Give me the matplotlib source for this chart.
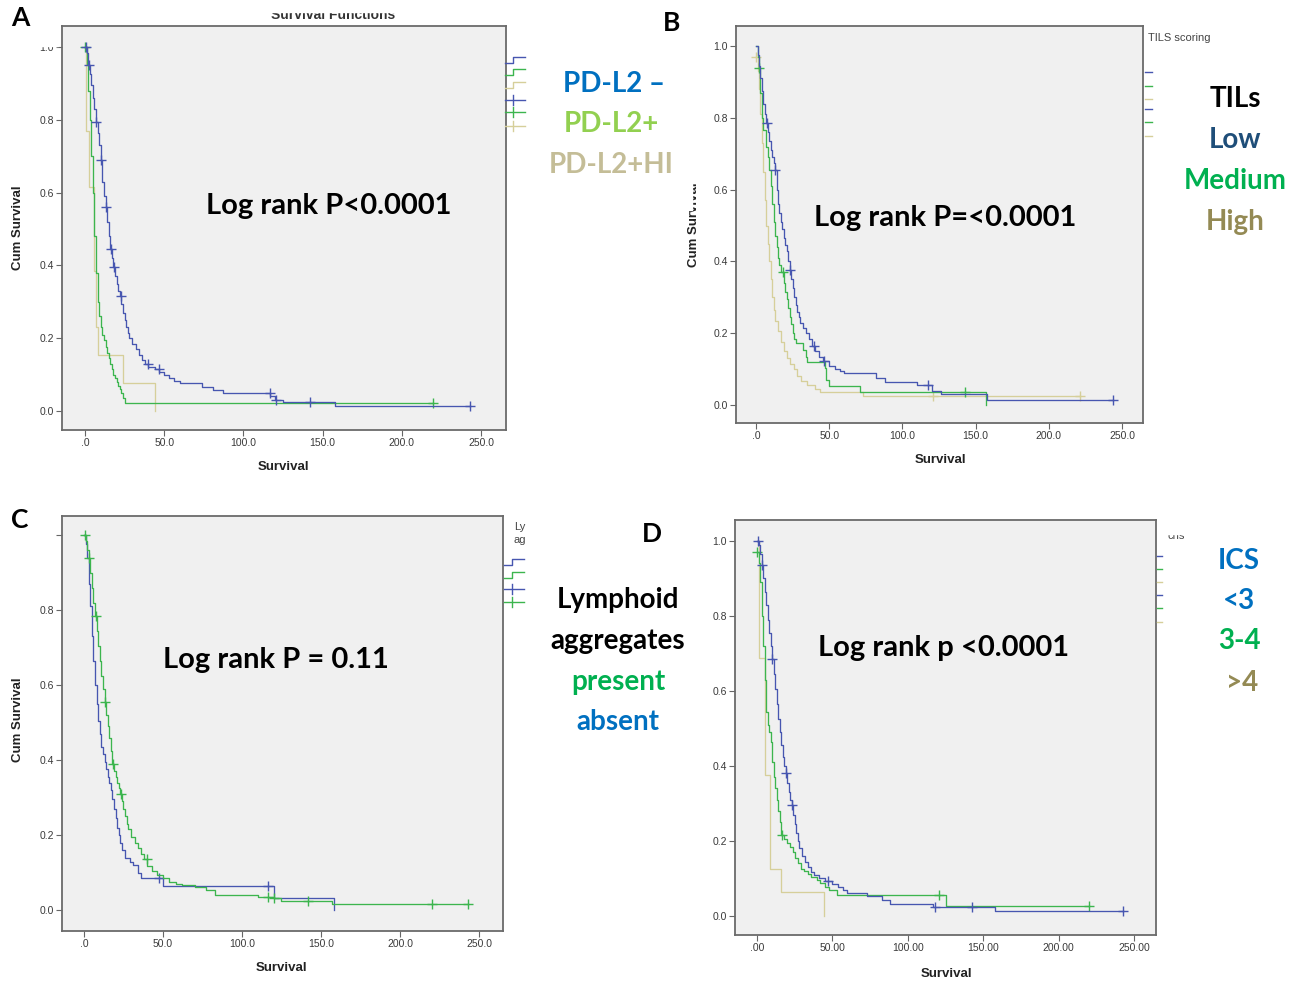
import numpy as np
import matplotlib.pyplot as plt
from matplotlib.patches import Rectangle

W, H = 1312, 985

BLUE = '#4756b0'
GREEN = '#3cb54e'
TAN = '#d6cf9a'

# ---- panel A : PD-L2 ----
a_blue_t = [0, 1, 2, 3, 4, 5, 6, 7, 8, 9, 10, 11, 12, 13, 14, 15, 16, 17, 18, 19, 20, 21, 22, 23, 24, 25, 26, 27, 28,
            30, 32, 34, 36, 38, 40, 44, 47, 50, 53, 56, 60, 74, 81, 87, 117, 120, 125, 158]
a_blue_s = [1.0, 0.985, 0.95, 0.925, 0.895, 0.86, 0.83, 0.795, 0.765, 0.73, 0.69, 0.63, 0.59, 0.56, 0.52, 0.48, 0.445,
            0.42, 0.395, 0.37, 0.35, 0.33, 0.315, 0.295, 0.27, 0.25, 0.23, 0.215, 0.20, 0.185, 0.17, 0.155, 0.14, 0.13,
            0.122, 0.115, 0.108, 0.10, 0.092, 0.084, 0.076, 0.065, 0.058, 0.050, 0.041, 0.030, 0.026, 0.014]
a_blue_cens = [0.5, 2.3, 7.2, 10.1, 13.2, 16.6, 18.1, 22.9, 39.8, 46.5, 116.8, 120.5, 142, 243]
a_green_t = [0, 1, 2, 3, 4, 5, 6, 7, 8, 9, 10, 11, 12, 13, 14, 15, 16, 17, 18, 19, 20, 21, 22, 23, 24, 25.5]
a_green_s = [1.0, 0.95, 0.88, 0.80, 0.70, 0.60, 0.48, 0.38, 0.30, 0.26, 0.23, 0.21, 0.195, 0.175, 0.16, 0.145, 0.13,
             0.115, 0.10, 0.09, 0.08, 0.07, 0.06, 0.05, 0.035, 0.021]
a_green_cens = [0.3, 220]
a_tan_t = [0, 0.8, 2.3, 5.5, 7.2, 8.2, 24, 44.4]
a_tan_s = [1.0, 0.769, 0.615, 0.385, 0.231, 0.154, 0.077, 0.0]

# ---- panel B : TILs ----
b_blue_t = [0, 1, 2, 3, 4, 5, 6, 7, 8, 9, 10, 11, 12, 13, 14, 15, 16, 17, 18, 19, 20, 21, 22, 23, 24, 25, 26, 27, 28,
            29, 30, 32, 34, 36, 38, 40, 43, 46, 50, 54, 57, 60, 82, 88, 110, 120, 126, 158]
b_blue_s = [1.0, 0.975, 0.945, 0.91, 0.875, 0.84, 0.81, 0.785, 0.76, 0.735, 0.71, 0.69, 0.675, 0.655, 0.60, 0.56,
            0.535, 0.51, 0.49, 0.465, 0.445, 0.43, 0.40, 0.375, 0.35, 0.325, 0.30, 0.28, 0.26, 0.245, 0.228, 0.215,
            0.20, 0.185, 0.165, 0.15, 0.135, 0.123, 0.11, 0.10, 0.095, 0.09, 0.074, 0.064, 0.055, 0.040, 0.032, 0.014]
b_blue_cens = [7.3, 13.2, 23.2, 39.8, 46.5, 117.5, 244]
b_green_t = [0, 1, 2, 3, 4, 5, 7, 8, 9, 10, 11, 12, 13, 14, 15, 16, 17, 19, 20, 21, 22, 23, 24, 25, 26, 27, 32, 34,
             35, 47, 48, 50, 71, 157]
b_green_s = [1.0, 0.97, 0.94, 0.87, 0.80, 0.765, 0.72, 0.69, 0.655, 0.61, 0.56, 0.51, 0.47, 0.44, 0.41, 0.39, 0.37,
             0.34, 0.315, 0.295, 0.27, 0.245, 0.225, 0.20, 0.185, 0.172, 0.153, 0.135, 0.121, 0.102, 0.07, 0.053,
             0.037, 0.0]
b_green_cens = [2.3, 18.2, 142.8]
b_tan_t = [0, 1, 2, 3, 4, 5, 6, 7, 8, 9, 10, 11, 12, 13, 15, 17, 19, 21, 23, 26, 28, 31, 35, 40, 44, 73]
b_tan_s = [0.97, 0.93, 0.88, 0.81, 0.73, 0.65, 0.57, 0.50, 0.45, 0.40, 0.35, 0.30, 0.265, 0.235, 0.205, 0.175, 0.15,
           0.13, 0.115, 0.10, 0.08, 0.068, 0.056, 0.046, 0.037, 0.025]
b_tan_cens = [0, 120.7, 221]

# ---- panel C : lymphoid aggregates ----
c_green_t = [0, 1, 2, 3, 4, 5, 6, 7, 8, 9, 10, 11, 12, 13, 14, 15, 16, 17, 18, 19, 20, 21, 22, 23, 24, 25, 26, 27, 28,
             30, 32, 34, 36, 38, 40, 43, 46, 50, 54, 58, 62, 70, 77, 83, 110, 120, 125, 157]
c_green_s = [1.0, 0.985, 0.96, 0.94, 0.90, 0.86, 0.82, 0.785, 0.745, 0.705, 0.665, 0.625, 0.59, 0.555, 0.52, 0.49,
             0.46, 0.425, 0.39, 0.37, 0.355, 0.34, 0.325, 0.31, 0.29, 0.27, 0.25, 0.23, 0.215, 0.195, 0.18, 0.165,
             0.15, 0.135, 0.118, 0.105, 0.093, 0.085, 0.076, 0.07, 0.066, 0.062, 0.053, 0.040, 0.036, 0.031, 0.025,
             0.015]
c_green_cens = [0.4, 3, 7.8, 13.1, 18.4, 23.6, 39.9, 116.5, 120.5, 142, 220, 243]
c_blue_t = [0, 1, 2, 3, 4, 5, 6, 7, 8, 9, 10, 11, 12, 13, 14, 15, 16, 17, 18, 19, 20, 21, 22, 23, 24, 26, 29, 31, 34,
            36, 50, 120, 158]
c_blue_s = [1.0, 0.975, 0.94, 0.87, 0.81, 0.73, 0.665, 0.60, 0.55, 0.505, 0.47, 0.435, 0.415, 0.395, 0.375, 0.355,
            0.34, 0.32, 0.295, 0.27, 0.245, 0.22, 0.20, 0.178, 0.16, 0.138, 0.128, 0.12, 0.10, 0.085, 0.064, 0.032,
            0.0]
c_blue_cens = [47.2, 116.5]

# ---- panel D : ICS ----
d_blue_t = [0, 1, 2, 3, 4, 5, 6, 7, 8, 9, 10, 11, 12, 13, 14, 15, 16, 17, 18, 19, 20, 21, 22, 23, 24, 25, 26, 27, 28,
            30, 32, 34, 36, 38, 41, 45, 50, 54, 57, 60, 73, 83, 88, 117, 158]
d_blue_s = [1.0, 0.99, 0.965, 0.935, 0.90, 0.865, 0.83, 0.79, 0.755, 0.72, 0.685, 0.645, 0.605, 0.565, 0.525, 0.49,
            0.455, 0.425, 0.40, 0.38, 0.355, 0.33, 0.31, 0.295, 0.27, 0.245, 0.22, 0.20, 0.18, 0.16, 0.145, 0.13,
            0.118, 0.108, 0.10, 0.093, 0.085, 0.078, 0.068, 0.06, 0.052, 0.043, 0.031, 0.025, 0.012]
d_blue_cens = [0.9, 3.1, 10.2, 19, 23.4, 47.3, 118, 142.4, 243]
d_green_t = [0, 1, 2, 3, 4, 5, 6, 7, 8, 9, 10, 11, 12, 13, 14, 15, 16, 18, 20, 22, 24, 25, 27, 29, 31, 34, 36, 40, 42,
             45, 48, 53, 125]
d_green_s = [0.971, 0.94, 0.89, 0.80, 0.72, 0.63, 0.545, 0.51, 0.49, 0.465, 0.41, 0.37, 0.34, 0.31, 0.28, 0.25, 0.215,
             0.205, 0.195, 0.185, 0.17, 0.155, 0.14, 0.125, 0.12, 0.112, 0.105, 0.095, 0.087, 0.078, 0.068, 0.056,
             0.027]
d_green_cens = [0, 16.4, 120.4, 220]
d_tan_t = [0, 1.5, 5.3, 8.5, 15.7, 44.7]
d_tan_s = [1.0, 0.6875, 0.375, 0.125, 0.0625, 0.0]

x_ticks = [0, 50, 100, 150, 200, 250]
x_labels_1 = ['.0', '50.0', '100.0', '150.0', '200.0', '250.0']
x_labels_2 = ['.00', '50.00', '100.00', '150.00', '200.00', '250.00']
y_ticks = [0.0, 0.2, 0.4, 0.6, 0.8, 1.0]
y_labels = ['0.0', '0.2', '0.4', '0.6', '0.8', '1.0']
y_labels_c = ['0.0', '0.2', '0.4', '0.6', '0.8', '']

fig = plt.figure(figsize=(W / 100, H / 100), dpi=100)
fig.patch.set_facecolor('white')


def km_axes(box, xlim, ylim, xlabels, ylabels):
    l, t, r, b = box
    ax = fig.add_axes([l / W, 1 - b / H, (r - l) / W, (b - t) / H])
    ax.set_facecolor('#f0f0f0')
    ax.set_xlim(*xlim)
    ax.set_ylim(*ylim)
    ax.set_xticks(x_ticks)
    ax.set_xticklabels(xlabels)
    ax.set_yticks(y_ticks)
    ax.set_yticklabels(ylabels)
    ax.tick_params(direction='out', length=4, width=0.8, color='#666666', labelsize=7.5,
                   labelcolor='#3a3a3a', pad=2)
    for lab in ax.get_xticklabels() + ax.get_yticklabels():
        lab.set_family('Liberation Sans')
    for sp in ax.spines.values():
        sp.set_color('#6a6a6a')
        sp.set_linewidth(1.3)
    return ax


def km_curve(ax, t, s, color, end=None, cens=()):
    t = np.asarray(t, float)
    s = np.asarray(s, float)
    if end is None:
        end = t[-1]
    ax.step(np.append(t, end), np.append(s, s[-1]), where='post', color=color, lw=0.95)
    if len(cens):
        idx = np.searchsorted(t, cens, side='right') - 1
        ax.plot(cens, s[idx], ls='none', marker='+', ms=7, mew=1.0, color=color)


ax_a = km_axes((62, 26, 506, 430), (-14.5, 265.8), (-0.052, 1.058), x_labels_1, y_labels)
km_curve(ax_a, a_tan_t, a_tan_s, TAN)
km_curve(ax_a, a_green_t, a_green_s, GREEN, 220, a_green_cens)
km_curve(ax_a, a_blue_t, a_blue_s, BLUE, 243, a_blue_cens)

ax_b = km_axes((736, 26, 1143, 423), (-13.7, 264.3), (-0.050, 1.056), x_labels_1, y_labels)
km_curve(ax_b, b_tan_t, b_tan_s, TAN, 221, b_tan_cens)
km_curve(ax_b, b_green_t, b_green_s, GREEN, None, b_green_cens)
km_curve(ax_b, b_blue_t, b_blue_s, BLUE, 244, b_blue_cens)

ax_c = km_axes((62, 516, 503, 931), (-13.9, 265.2), (-0.056, 1.051), x_labels_1, y_labels_c)
km_curve(ax_c, c_blue_t, c_blue_s, BLUE, None, c_blue_cens)
km_curve(ax_c, c_green_t, c_green_s, GREEN, 243, c_green_cens)

ax_d = km_axes((735, 520, 1156, 935), (-14.6, 264.6), (-0.051, 1.056), x_labels_2, y_labels)
km_curve(ax_d, d_tan_t, d_tan_s, TAN)
km_curve(ax_d, d_green_t, d_green_s, GREEN, 220, d_green_cens)
km_curve(ax_d, d_blue_t, d_blue_s, BLUE, 243, d_blue_cens)

# overlay in pixel coordinates for labels, annotations and legend keys
ov = fig.add_axes([0, 0, 1, 1], zorder=10)
ov.set_xlim(0, W)
ov.set_ylim(H, 0)
ov.axis('off')

big = dict(family=['Lato', 'DejaVu Sans'], weight='bold', ha='center', va='center')
axis_lab = dict(family='Liberation Sans', weight='bold', fontsize=9.5, color='#222222', ha='center', va='center')

# panel letters
for letter, x, y in [('A', 20, 18), ('B', 672, 23), ('C', 20, 520), ('D', 652, 534)]:
    ov.text(x, y, letter, fontsize=19, color='black', **big)

# axis titles
ov.text(18, 228, 'Cum Survival', rotation=90, **axis_lab)
ov.text(283, 467, 'Survival', **axis_lab)
ov.text(694, 225, 'Cum Survival', rotation=90, **axis_lab)
ov.text(940, 460, 'Survival', **axis_lab)
ov.text(18, 720, 'Cum Survival', rotation=90, **axis_lab)
ov.text(281, 968, 'Survival', **axis_lab)
ov.text(946, 974, 'Survival', **axis_lab)

# chart title of panel A, cut off at the top
ov.text(333, 15, 'Survival Functions', family='Liberation Sans', weight='bold', fontsize=10,
        color='#333333', ha='center', va='center')
ov.add_patch(Rectangle((230, 0), 210, 12, color='white', zorder=5))
ov.add_patch(Rectangle((28, 30), 30, 15.5, color='white', zorder=5))
ov.add_patch(Rectangle((683, 160), 8.5, 50, color='white', zorder=5))

# log-rank annotations
ov.text(329, 206, 'Log rank P<0.0001', fontsize=21, color='black', **big)
ov.text(945, 218, 'Log rank P=<0.0001', fontsize=21, color='black', **big)
ov.text(276, 660, 'Log rank P = 0.11', fontsize=21, color='black', **big)
ov.text(944, 648, 'Log rank p <0.0001', fontsize=21, color='black', **big)

# group labels
groups = [
    (614, 84, 'PD-L2 \u2013', '#0070c0'), (611, 124, 'PD-L2+', '#92d050'), (611, 165, 'PD-L2+HI', '#c4bd97'),
    (1235, 99, 'TILs', 'black'), (1235, 140, 'Low', '#1f4e79'), (1235, 181, 'Medium', '#00b050'),
    (1235, 222, 'High', '#948a54'),
    (618, 600, 'Lymphoid', 'black'), (618, 641, 'aggregates', 'black'), (618, 682, 'present', '#00b050'),
    (618, 722, 'absent', '#0070c0'),
    (1239, 561, 'ICS', '#0070c0'), (1239, 601, '<3', '#0070c0'), (1239, 641, '3-4', '#00b050'),
    (1242, 683, '>4', '#948a54'),
]
for x, y, txt, col in groups:
    ov.text(x, y, txt, fontsize=20, color=col, **big)

# small legend keys next to the plot frames
small = dict(family='Liberation Sans', fontsize=8, color='#444444', va='center', ha='left')


def step_key(x0, y, color):
    ov.plot([x0, x0 + 8, x0 + 8, x0 + 20], [y + 3, y + 3, y - 3, y - 3], color=color, lw=1)


def cross_key(x0, y, color):
    ov.plot([x0, x0 + 20], [y, y], color=color, lw=1)
    ov.plot([x0 + 8, x0 + 8], [y - 5, y + 5], color=color, lw=1)


for y, col in [(60, BLUE), (72, GREEN), (85, TAN)]:
    step_key(505, y, col)
for y, col in [(100, BLUE), (112, GREEN), (126, TAN)]:
    cross_key(505, y, col)

ov.text(1148, 38, 'TILS scoring', **small)
for y, col in zip([72, 86, 99, 109, 122, 136], [BLUE, GREEN, TAN, BLUE, GREEN, TAN]):
    ov.plot([1145, 1152], [y, y], color=col, lw=1)

# legend title of panel C is cut by the edge of its legend box
legend_clip = Rectangle((505, 510), 21, 45, transform=ov.transData)
for y, txt in [(527, 'Lymphoid'), (540, 'aggregates')]:
    t = ov.text(514, y, txt, clip_on=True, **small)
    t.set_clip_path(legend_clip)
for y, col in [(562, BLUE), (575, GREEN)]:
    step_key(504, y, col)
for y, col in [(589, BLUE), (602, GREEN)]:
    cross_key(504, y, col)

ov.text(1168, 536, 'cns', **small)
ov.add_patch(Rectangle((1160, 520), 40, 14, color='white', zorder=5))
for y, col in zip([556, 569, 582, 595, 608, 622], [BLUE, GREEN, TAN, BLUE, GREEN, TAN]):
    ov.plot([1157, 1162], [y, y], color=col, lw=1)

fig.savefig('out.png', dpi=100)
